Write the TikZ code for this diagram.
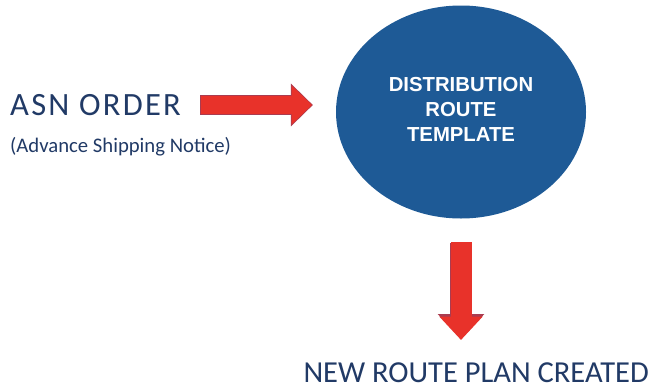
\documentclass[tikz,border=0pt]{standalone}
\usepackage{fontspec}
\setmainfont{Carlito}
\newfontfamily\arialfont{Liberation Sans}
\newfontfamily\spacedfont[LetterSpace=7]{Carlito}
\usetikzlibrary{arrows.meta,shapes.geometric}
\definecolor{navy}{RGB}{33,58,102}
\definecolor{ellblue}{RGB}{30,90,150}
\definecolor{arrred}{RGB}{232,50,42}
\definecolor{arredge}{RGB}{170,60,80}
\tikzset{
  bigtext/.style={text=navy, inner sep=0pt},
  smalltext/.style={text=navy, font=\fontsize{20.7}{24}\selectfont, inner sep=0pt},
  arrouter/.style={draw=arredge, line width=#1},
  arrinner/.style={draw=arrred, line width=#1},
}
\begin{document}
\begin{tikzpicture}[x=1pt,y=-1pt]
\useasboundingbox (0,0) rectangle (653,388);
\fill[white] (0,0) rectangle (653,388);
\node[bigtext, anchor=base west, font=\spacedfont\fontsize{32.5}{36}\selectfont] (asn) at (10,115) {ASN ORDER};
\node[smalltext, anchor=base west] (notice) at (10,152) {(Advance Shipping Notice)};
\node[ellipse, fill=ellblue, minimum width=250pt, minimum height=213pt, inner sep=0pt] (tmpl) at (461,112) {};
\node[text=white, align=center, inner sep=0pt, font=\arialfont\bfseries\fontsize{20.3}{25}\selectfont] (tmpltext) at ([yshift=3pt]tmpl.center)
      {DISTRIBUTION\\ROUTE\\TEMPLATE};
\node[bigtext, anchor=base east, font=\fontsize{30.5}{34}\selectfont] (result) at (649,382.5) {NEW ROUTE PLAN CREATED};
\coordinate (a1s) at (201,105);
\coordinate (a1e) at (312,105);
\coordinate (a2s) at (461,242);
\coordinate (a2e) at (461,340);
% right arrow
\draw[arrouter=19.4pt, -{Triangle[length=22pt,width=41.5pt]}] ([xshift=-0.7pt]a1s) -- ([xshift=0.9pt]a1e);
\draw[arrinner=18pt, -{Triangle[length=20.5pt,width=38pt]}] (a1s) -- (a1e);
% down arrow
\draw[arrouter=22.4pt, -{Triangle[length=25pt,width=45pt]}] ([yshift=-0.7pt]a2s) -- ([yshift=0.9pt]a2e);
\draw[arrinner=21pt, -{Triangle[length=23.5pt,width=42pt]}] (a2s) -- (a2e);
\end{tikzpicture}
\end{document}
